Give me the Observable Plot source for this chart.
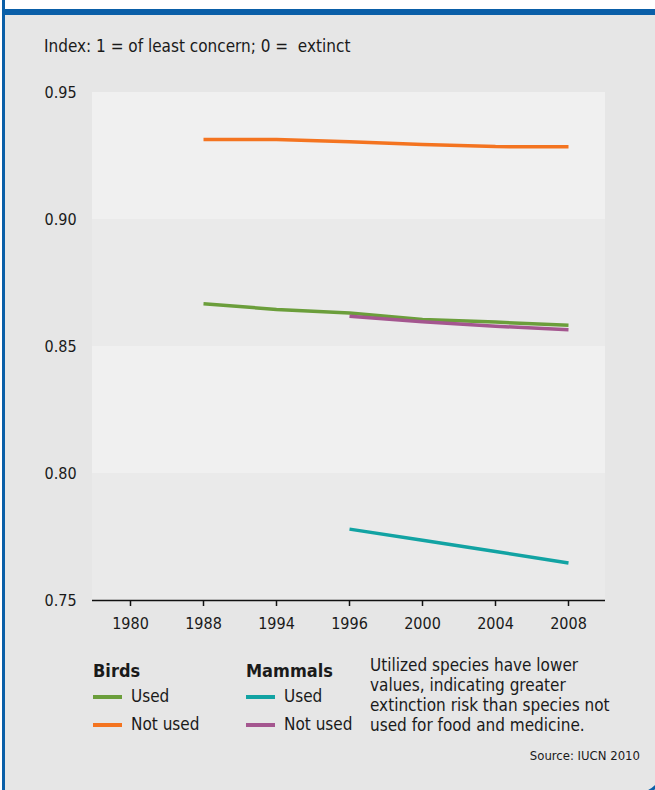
<!DOCTYPE html>
<html>
<head>
<meta charset="utf-8">
<script src="https://cdn.jsdelivr.net/npm/d3@7"></script>
<script src="https://cdn.jsdelivr.net/npm/@observablehq/plot@0.6"></script>
<style>
  html, body { margin: 0; padding: 0; background: #ffffff; width: 655px; height: 790px; overflow: hidden; }
  body { position: relative; font-family: "Liberation Sans Narrow", "DejaVu Sans Condensed", Roboto, sans-serif; color: #1a1a1a; }
  #box { position: absolute; left: 2px; top: 9px; width: 656px; height: 777px; background: #e6e6e6;
         border: 3px solid #0a5fa8; border-top-width: 6px; border-radius: 0 0 25px 0; box-sizing: content-box; }
  #leftline { position: absolute; left: 2px; top: 0; width: 3px; height: 12px; background: #0a5fa8; }
  #title { position: absolute; left: 44px; top: 36px; font-size: 17px; white-space: pre; }
  #chart { position: absolute; left: 0; top: 80px; }
  .lg { position: absolute; font-size: 17px; }
  .lgh { position: absolute; font-size: 18px; font-weight: bold; }
  .sw { position: absolute; width: 29px; height: 3.5px; }
  #note { position: absolute; left: 370px; top: 655px; font-size: 17px; line-height: 20px; width: 250px; }
  #source { position: absolute; right: 15px; top: 748px; font-size: 13px; }
</style>
</head>
<body>
<div id="box"></div>
<div id="leftline"></div>
<div id="title">Index: 1 = of least concern; 0 =  extinct</div>
<div id="chart"></div>
<div class="lgh" style="left:93px; top:660px;">Birds</div>
<div class="sw" style="left:93px; top:695px; background:#6b9e3b;"></div>
<div class="lg" style="left:131px; top:686px;">Used</div>
<div class="sw" style="left:93px; top:723px; background:#f47420;"></div>
<div class="lg" style="left:131px; top:714px;">Not used</div>
<div class="lgh" style="left:246px; top:660px;">Mammals</div>
<div class="sw" style="left:246px; top:695px; background:#12a3a3;"></div>
<div class="lg" style="left:284px; top:686px;">Used</div>
<div class="sw" style="left:246px; top:723px; background:#a4568f;"></div>
<div class="lg" style="left:284px; top:714px;">Not used</div>
<div id="note">Utilized species have lower values, indicating greater extinction risk than species not used for food and medicine.</div>
<div id="source">Source: IUCN 2010</div>
<script>
const years = ["1980", "1988", "1994", "1996", "2000", "2004", "2008"];
const birdsUsed      = [null, 0.8668, 0.8646, 0.8632, 0.8606, 0.8596, 0.8584];
const birdsNotUsed   = [null, 0.9315, 0.9315, 0.9306, 0.9295, 0.9287, 0.9286];
const mammalsUsed    = [null, null, null, 0.7781, 0.7737, 0.7693, 0.7648];
const mammalsNotUsed = [null, null, null, 0.8619, 0.8597, 0.8580, 0.8566];
const seriesNames  = ["Birds used", "Birds not used", "Mammals used", "Mammals not used"];
const seriesColors = ["#6b9e3b", "#f47420", "#12a3a3", "#a4568f"];
const yTicks = [0.75, 0.80, 0.85, 0.90, 0.95];
const bandLows  = [0.75, 0.80, 0.85, 0.90];
const bandHighs = [0.80, 0.85, 0.90, 0.95];
const bandFills = ["#eaeaea", "#f0f0f0", "#eaeaea", "#f0f0f0"];

const seriesValues = [birdsUsed, birdsNotUsed, mammalsUsed, mammalsNotUsed];
const data = [];
seriesValues.forEach((vals, s) => {
  vals.forEach((v, i) => { if (v != null) data.push({year: years[i], value: v, series: seriesNames[s]}); });
});
const bands = bandLows.map((lo, i) => ({lo, hi: bandHighs[i], fill: bandFills[i]}));

const chart = Plot.plot({
  width: 655,
  height: 570,
  marginTop: 12,
  marginBottom: 50,
  marginLeft: 92,
  marginRight: 50,
  style: { background: "transparent", fontFamily: "'Liberation Sans Narrow', 'DejaVu Sans Condensed', Roboto, sans-serif", color: "#1a1a1a" },
  x: { type: "point", domain: years, padding: 0.5 },
  y: { domain: [0.75, 0.95] },
  color: { domain: seriesNames, range: seriesColors },
  marks: [
    Plot.rect(bands, { y1: "lo", y2: "hi", fill: "fill" }),
    Plot.line(data, { x: "year", y: "value", z: "series", stroke: "series", strokeWidth: 3.5, strokeLinecap: "butt" }),
    Plot.ruleY([0.75], { stroke: "#111", strokeWidth: 1.5 }),
    Plot.axisX({ tickSize: 6, tickPadding: 11, stroke: "#111", strokeWidth: 1.5, fontSize: 16, label: null }),
    Plot.axisY({ ticks: yTicks, tickFormat: ".2f", tickSize: 0, tickPadding: 0, textAnchor: "start", dx: -48, fontSize: 16, label: null })
  ]
});
document.getElementById("chart").appendChild(chart);
</script>
</body>
</html>
